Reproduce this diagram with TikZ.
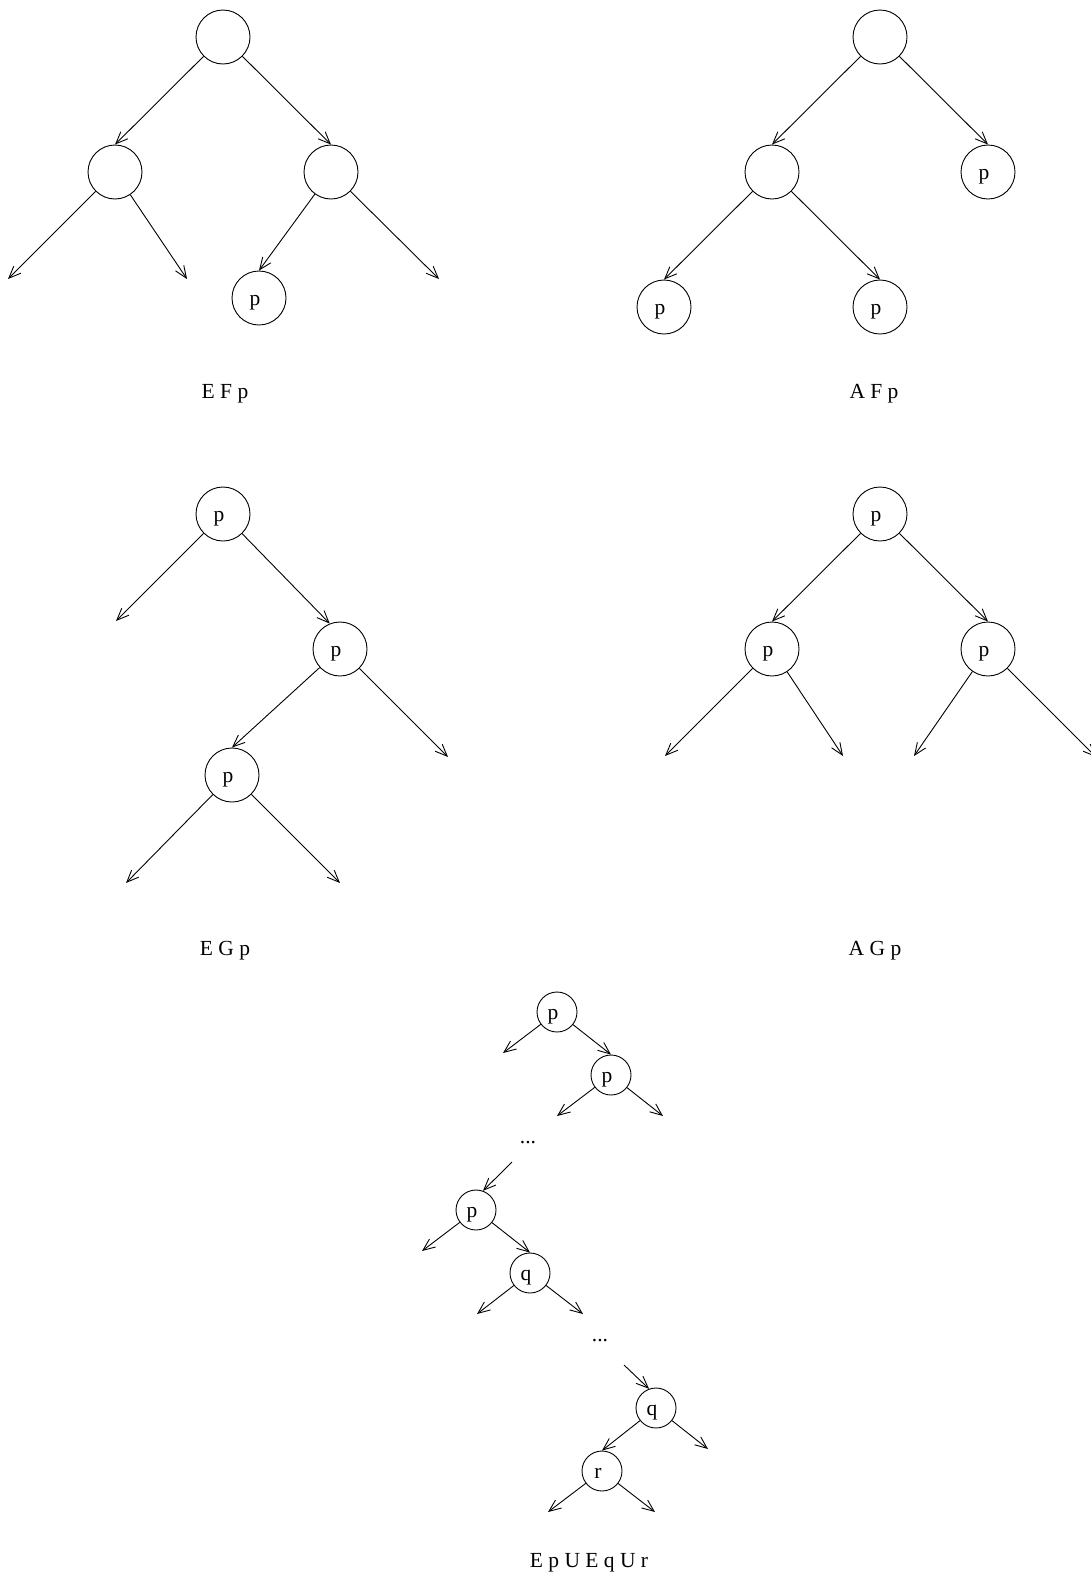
\documentclass[tikz,border=0pt]{standalone}
\usepackage{fontspec}
\setmainfont{Liberation Serif}
\usetikzlibrary{arrows.meta}
\begin{document}
\begin{tikzpicture}[x=1pt,y=-1pt,
  font=\fontsize{21.5}{25}\selectfont,
  big/.style={circle,draw,line width=0.9pt,minimum size=54pt,inner sep=0pt,text height=15pt,text depth=0pt,execute at end node={\kern8pt}},
  small/.style={circle,draw,line width=0.9pt,minimum size=40pt,inner sep=0pt,text height=15pt,text depth=0pt,execute at end node={\kern8pt}},
  arr/.style={line width=0.9pt,-{Straight Barb[length=12pt,width=10pt]}},
  lbl/.style={anchor=base,inner sep=0pt}]
\useasboundingbox (0,0) rectangle (1090,1577);
% ---- E F p
\node[big] (r1) at (223,37) {};
\node[big] (a1) at (115,172) {};
\node[big] (b1) at (331,172) {};
\node[big] (c1) at (259,298) {p};
\coordinate (l1a) at (8,279);
\coordinate (l1b) at (187,279);
\coordinate (l1c) at (439,279);
\draw[arr] (r1) -- (a1.north);
\draw[arr] (r1) -- (b1.north);
\draw[arr] (a1) -- (l1a);
\draw[arr] (a1) -- (l1b);
\draw[arr] (b1) -- (c1.north);
\draw[arr] (b1) -- (l1c);
\node[lbl] (t1) at (225,398) {E F p};
% ---- A F p
\node[big] (r2) at (880,37) {};
\node[big] (a2) at (772,172) {};
\node[big] (b2) at (988,172) {p};
\node[big] (c2) at (664,307) {p};
\node[big] (d2) at (880,307) {p};
\draw[arr] (r2) -- (a2.north);
\draw[arr] (r2) -- (b2.north);
\draw[arr] (a2) -- (c2.north);
\draw[arr] (a2) -- (d2.north);
\node[lbl] (t2) at (874,398) {A F p};
% ---- E G p
\node[big] (r3) at (223,514) {p};
\node[big] (b3) at (340,649) {p};
\node[big] (c3) at (232,775) {p};
\coordinate (l3a) at (116,621);
\coordinate (l3b) at (448,757);
\coordinate (l3c) at (126,883);
\coordinate (l3d) at (340,883);
\draw[arr] (r3) -- (l3a);
\draw[arr] (r3) -- (b3.112);
\draw[arr] (b3) -- (c3.north);
\draw[arr] (b3) -- (l3b);
\draw[arr] (c3) -- (l3c);
\draw[arr] (c3) -- (l3d);
\node[lbl] (t3) at (225,955) {E G p};
% ---- A G p
\node[big] (r4) at (880,514) {p};
\node[big] (a4) at (772,649) {p};
\node[big] (b4) at (988,649) {p};
\coordinate (l4a) at (665,756);
\coordinate (l4b) at (843,756);
\coordinate (l4c) at (914,756);
\coordinate (l4d) at (1096,757);
\draw[arr] (r4) -- (a4.north);
\draw[arr] (r4) -- (b4.north);
\draw[arr] (a4) -- (l4a);
\draw[arr] (a4) -- (l4b);
\draw[arr] (b4) -- (l4c);
\draw[arr] (b4) -- (l4d);
\node[lbl] (t4) at (875,955) {A G p};
% ---- E p U E q U r
\node[small] (s1) at (557,1012) {p};
\node[small] (s2) at (611,1075) {p};
\node[small] (s3) at (476,1210) {p};
\node[small] (s4) at (530,1273) {q};
\node[small] (s5) at (656,1408) {q};
\node[small] (s6) at (602,1471) {r};
\coordinate (m1) at (503,1053);
\coordinate (m2) at (557,1116);
\coordinate (m3) at (663,1116);
\coordinate (m4) at (512,1162);
\coordinate (m5) at (422,1251);
\coordinate (m6) at (477,1314);
\coordinate (m7) at (583,1314);
\coordinate (m8) at (624,1365);
\coordinate (m9) at (708,1449);
\coordinate (m10) at (548,1512);
\coordinate (m11) at (655,1512);
\draw[arr] (s1) -- (m1);
\draw[arr] (s1) -- (s2.north);
\draw[arr] (s2) -- (m2);
\draw[arr] (s2) -- (m3);
\node[lbl] (dots1) at (528,1143) {...};
\draw[arr] (m4) -- (s3.70);
\draw[arr] (s3) -- (m5);
\draw[arr] (s3) -- (s4.north);
\draw[arr] (s4) -- (m6);
\draw[arr] (s4) -- (m7);
\node[lbl] (dots2) at (600,1341) {...};
\draw[arr] (m8) -- (s5.110);
\draw[arr] (s5) -- (s6.north);
\draw[arr] (s5) -- (m9);
\draw[arr] (s6) -- (m10);
\draw[arr] (s6) -- (m11);
\node[lbl] (t5) at (589,1567) {E p U E q U r};
\end{tikzpicture}
\end{document}
